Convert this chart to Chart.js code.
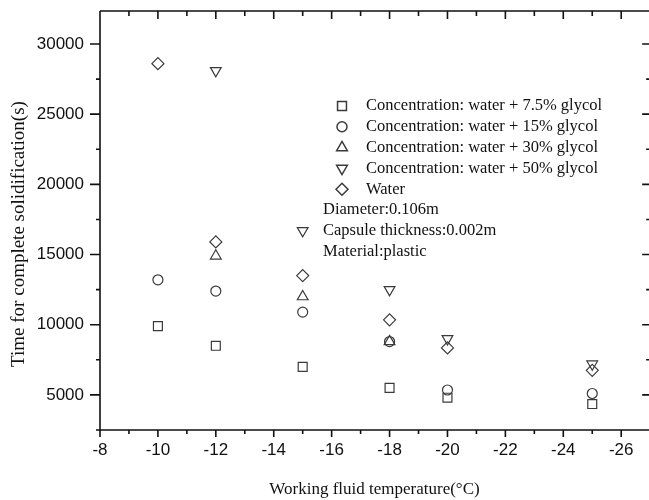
<!DOCTYPE html>
<html>
<head>
<meta charset="utf-8">
<script src="https://cdn.jsdelivr.net/npm/chart.js@4.4.0/dist/chart.umd.min.js"></script>
<style>
  html, body { margin: 0; padding: 0; background: #fff; }
</style>
</head>
<body>
<canvas id="grafico" width="649" height="500"></canvas>
<script>
// dati
const temperature = [-10, -12, -15, -18, -20, -25];
const glycol75 = [9900, 8500, 7000, 5500, 4800, 4350];
const glycol15 = [13200, 12400, 10900, 8800, 5350, 5100];
const glycol30 = [null, 14900, 12000, 8800, null, null];
const glycol50 = [null, 28100, 16700, 12500, 9000, 7200];
const acqua = [28600, 15900, 13500, 10350, 8350, 6750];

const xTicks = [-8, -10, -12, -14, -16, -18, -20, -22, -24, -26];
const yTicks = [5000, 10000, 15000, 20000, 25000, 30000];
const legendLabels = [
    'Concentration: water + 7.5% glycol',
    'Concentration: water + 15% glycol',
    'Concentration: water + 30% glycol',
    'Concentration: water + 50% glycol',
    'Water'
];
const noteLines = ['Diameter:0.106m', 'Capsule thickness:0.002m', 'Material:plastic'];
const titoloY = 'Time for complete solidification(s)';

function punti(valori) {
    var out = [];
    for (var i = 0; i < temperature.length; i++) {
        if (valori[i] !== null) out.push({ x: temperature[i], y: valori[i] });
    }
    return out;
}

var colore = '#3a3a3a';
function serie(label, valori, stile, raggio, rotazione) {
    return {
        label: label,
        data: punti(valori),
        pointStyle: stile,
        pointRadius: raggio,
        pointHoverRadius: raggio,
        pointRotation: rotazione || 0,
        borderColor: colore,
        backgroundColor: 'transparent',
        pointBorderWidth: 1.2,
        showLine: false
    };
}

var datasets = [
    serie(legendLabels[0], glycol75, 'rect', 6.3),
    serie(legendLabels[1], glycol15, 'circle', 5),
    serie(legendLabels[2], glycol30, 'triangle', 6.2),
    serie(legendLabels[3], glycol50, 'triangle', 6.2, 180),
    serie(legendLabels[4], acqua, 'rectRot', 6)
];

// assi stile Origin: cornice, tacche maggiori e minori, legenda interna
var cornice = {
    id: 'cornice',
    afterDraw: function (chart) {
        var ctx = chart.ctx;
        var a = chart.chartArea;
        var xs = chart.scales.x, ys = chart.scales.y;
        var destra = xs.getPixelForValue(-27);
        ctx.save();
        ctx.strokeStyle = '#111';
        ctx.lineWidth = 1.6;
        ctx.beginPath();
        ctx.moveTo(a.left, a.top); ctx.lineTo(destra, a.top);
        ctx.moveTo(a.left, a.top); ctx.lineTo(a.left, a.bottom + 1);
        ctx.moveTo(a.left, a.bottom); ctx.lineTo(destra, a.bottom);
        ctx.moveTo(destra, a.top); ctx.lineTo(destra, a.bottom);
        for (var v = -8; v >= -27; v--) {
            var px = xs.getPixelForValue(v);
            var maggiore = (v % 2 === 0);
            ctx.moveTo(px, a.bottom); ctx.lineTo(px, a.bottom + (maggiore ? 7 : 4));
            ctx.moveTo(px, a.top); ctx.lineTo(px, a.top + (maggiore ? 8 : 5));
        }
        for (var y = 2500; y <= 32500; y += 2500) {
            if (y < ys.min || y > ys.max) continue;
            var py = ys.getPixelForValue(y);
            var magg = (y % 5000 === 0);
            ctx.moveTo(a.left, py); ctx.lineTo(a.left - (magg ? 10 : 4), py);
            ctx.moveTo(destra, py); ctx.lineTo(destra - (magg ? 8 : 4), py);
        }
        ctx.stroke();

        // titolo asse y (un po' sotto il centro, come nell'originale)
        ctx.save();
        ctx.translate(19, 234);
        ctx.rotate(-Math.PI / 2);
        ctx.fillStyle = '#111';
        ctx.font = '19px "Liberation Serif", "Times New Roman", serif';
        ctx.textAlign = 'center';
        ctx.textBaseline = 'middle';
        ctx.fillText(titoloY, 0, 0);
        ctx.restore();

        // legenda
        var sx = a.left + 242, tx = a.left + 266, y0 = a.top + 95, passo = 20.8;
        ctx.font = '16.5px "Liberation Serif", "Times New Roman", serif';
        ctx.textBaseline = 'middle';
        chart.data.datasets.forEach(function (ds, i) {
            var yy = y0 + i * passo;
            ctx.strokeStyle = colore;
            ctx.fillStyle = 'rgba(0,0,0,0)';
            ctx.lineWidth = 1.5;
            Chart.helpers.drawPoint(ctx, {
                pointStyle: ds.pointStyle, radius: ds.pointRadius, rotation: ds.pointRotation, borderWidth: 1.5
            }, sx, yy);
            ctx.fillStyle = '#111';
            ctx.fillText(ds.label, tx, yy);
        });
        ctx.fillStyle = '#111';
        noteLines.forEach(function (t, i) {
            ctx.fillText(t, a.left + 223, y0 + (5 + i) * passo);
        });
        ctx.restore();
    }
};

new Chart(document.getElementById('grafico'), {
    type: 'scatter',
    data: { datasets: datasets },
    options: {
        responsive: false,
        animation: false,
        layout: { autoPadding: false, padding: { left: 0, right: 0, top: 11, bottom: 0 } },
        plugins: { legend: { display: false }, tooltip: { enabled: false } },
        scales: {
            x: {
                type: 'linear',
                reverse: true,
                min: -26.96,
                max: -8,
                grid: { display: false, drawTicks: false },
                border: { display: false },
                afterBuildTicks: function (s) { s.ticks = xTicks.map(function (v) { return { value: v }; }); },
                afterFit: function (s) { s.height = 70; s.paddingLeft = 0; s.paddingRight = 0; },
                ticks: {
                    padding: 10,
                    color: '#111',
                    font: { family: '"Liberation Sans", Arial, sans-serif', size: 17 },
                    maxRotation: 0
                },
                title: {
                    display: true,
                    text: 'Working fluid temperature(°C)',
                    color: '#111',
                    font: { family: '"Liberation Serif", "Times New Roman", serif', size: 17 },
                    padding: { top: 3, bottom: 0 }
                }
            },
            y: {
                type: 'linear',
                min: 2500,
                max: 32350,
                grid: { display: false, drawTicks: false },
                border: { display: false },
                afterBuildTicks: function (s) { s.ticks = yTicks.map(function (v) { return { value: v }; }); },
                afterFit: function (s) { s.width = 100; s.paddingTop = 0; s.paddingBottom = 0; },
                ticks: {
                    padding: 16,
                    color: '#111',
                    font: { family: '"Liberation Sans", Arial, sans-serif', size: 17 },
                    callback: function (v) { return String(v); }
                },
                title: { display: false }
            }
        }
    },
    plugins: [cornice]
});
</script>
</body>
</html>
